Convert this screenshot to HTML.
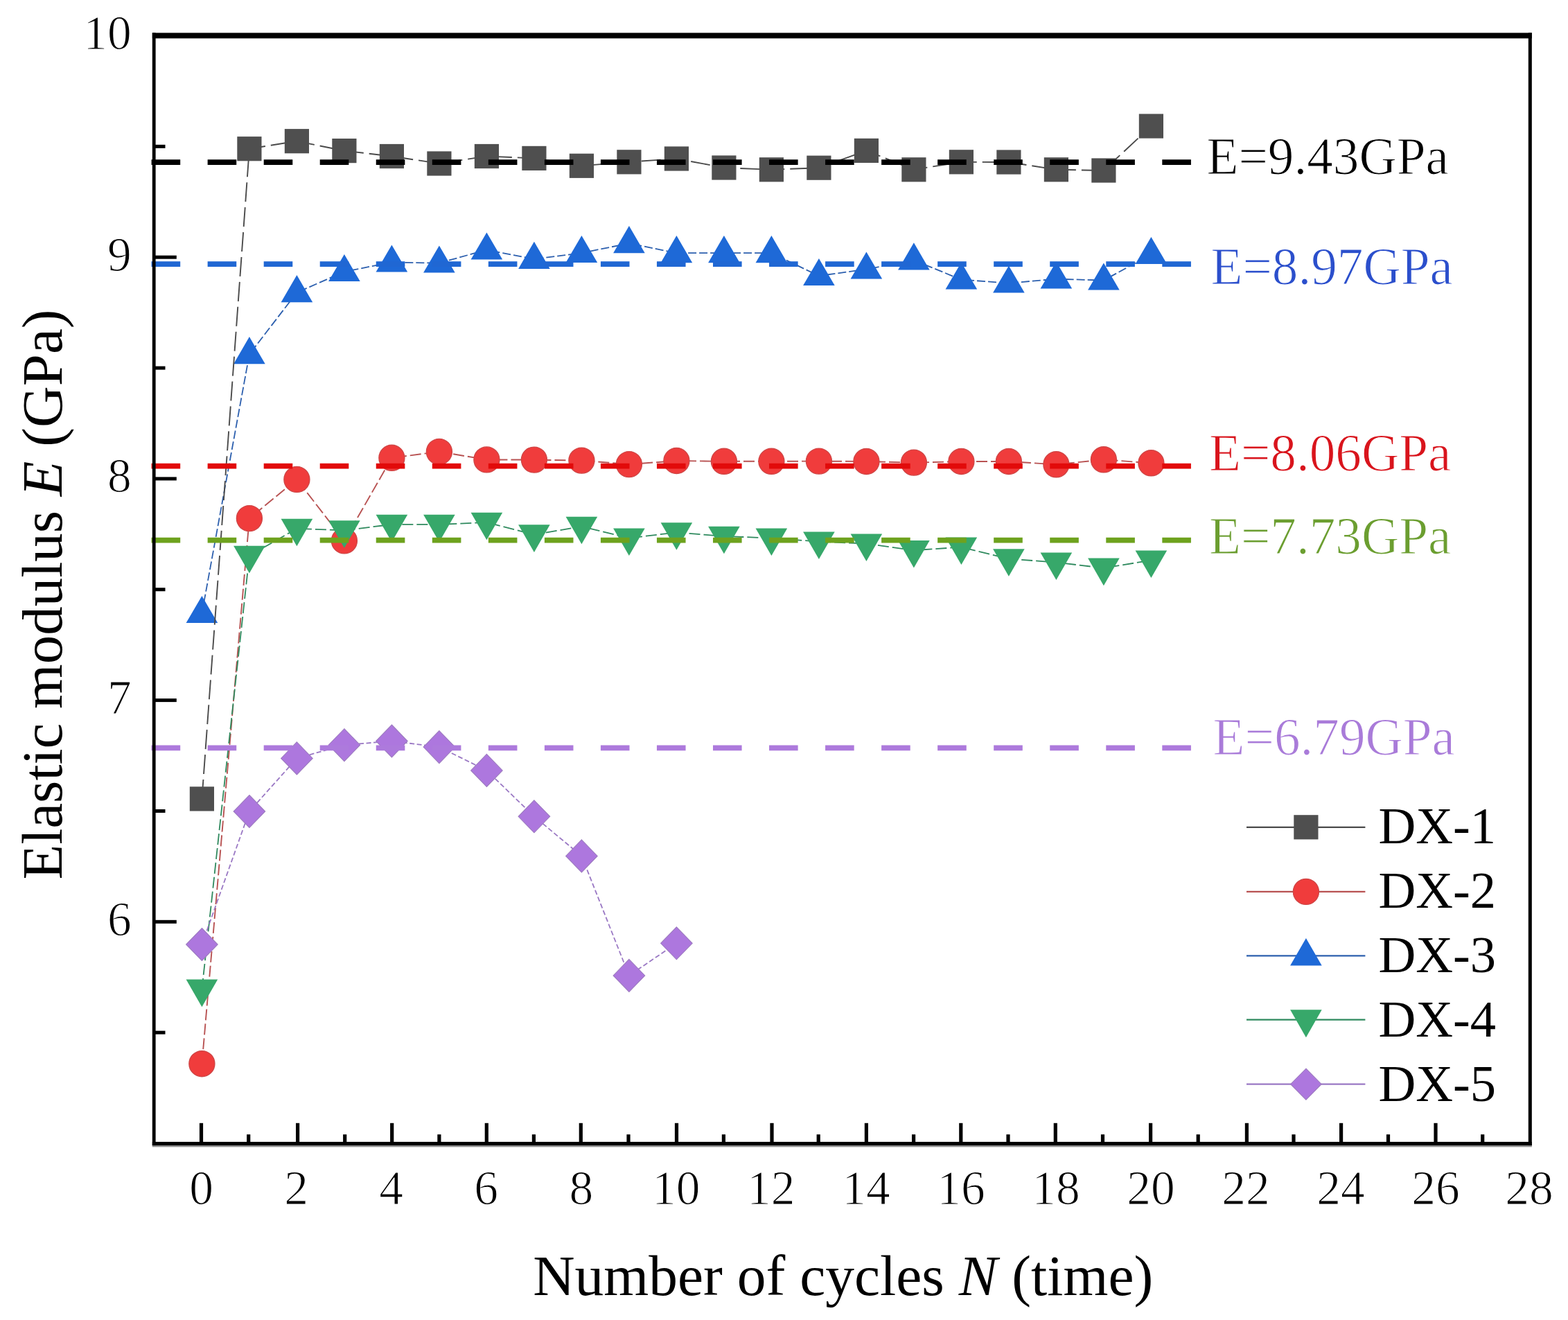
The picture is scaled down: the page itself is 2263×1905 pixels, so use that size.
<!DOCTYPE html>
<html><head><meta charset="utf-8"><title>Elastic modulus vs cycles</title>
<style>html,body{margin:0;padding:0;background:#fff;}svg{display:block;}text{font-family:"Liberation Serif","Times New Roman",serif;}</style>
</head><body>
<svg width="2263" height="1905" viewBox="0 0 2263 1905">
<rect width="2263" height="1905" fill="#fff"/>
<g id="s3">
<polyline points="291.4,885.1 359.9,511.3 428.4,422.2 496.9,392.1 565.4,378.6 633.9,379.6 702.4,360.6 770.9,373.9 839.4,365.1 907.9,351.2 976.4,365.2 1044.9,365.2 1113.4,365.2 1181.9,398.1 1250.4,388.6 1318.9,375.4 1387.4,403.6 1455.9,408.6 1524.4,402.6 1592.9,404.6 1661.4,367.1" fill="none" stroke="#2c5fae" stroke-width="1.8" stroke-dasharray="12 4"/>
<polygon points="291.4,859.9 314.2,899.1 268.6,899.1" fill="#1e69d7"/>
<polygon points="359.9,486.1 382.7,525.3 337.1,525.3" fill="#1e69d7"/>
<polygon points="428.4,397 451.2,436.2 405.6,436.2" fill="#1e69d7"/>
<polygon points="496.9,366.9 519.7,406.1 474.1,406.1" fill="#1e69d7"/>
<polygon points="565.4,353.4 588.2,392.6 542.6,392.6" fill="#1e69d7"/>
<polygon points="633.9,354.4 656.7,393.6 611.1,393.6" fill="#1e69d7"/>
<polygon points="702.4,335.4 725.2,374.6 679.6,374.6" fill="#1e69d7"/>
<polygon points="770.9,348.7 793.7,387.9 748.1,387.9" fill="#1e69d7"/>
<polygon points="839.4,339.9 862.2,379.1 816.6,379.1" fill="#1e69d7"/>
<polygon points="907.9,326 930.7,365.2 885.1,365.2" fill="#1e69d7"/>
<polygon points="976.4,340 999.2,379.2 953.6,379.2" fill="#1e69d7"/>
<polygon points="1044.9,340 1067.7,379.2 1022.1,379.2" fill="#1e69d7"/>
<polygon points="1113.4,340 1136.2,379.2 1090.6,379.2" fill="#1e69d7"/>
<polygon points="1181.9,372.9 1204.7,412.1 1159.1,412.1" fill="#1e69d7"/>
<polygon points="1250.4,363.4 1273.2,402.6 1227.6,402.6" fill="#1e69d7"/>
<polygon points="1318.9,350.2 1341.7,389.4 1296.1,389.4" fill="#1e69d7"/>
<polygon points="1387.4,378.4 1410.2,417.6 1364.6,417.6" fill="#1e69d7"/>
<polygon points="1455.9,383.4 1478.7,422.6 1433.1,422.6" fill="#1e69d7"/>
<polygon points="1524.4,377.4 1547.2,416.6 1501.6,416.6" fill="#1e69d7"/>
<polygon points="1592.9,379.4 1615.7,418.6 1570.1,418.6" fill="#1e69d7"/>
<polygon points="1661.4,341.9 1684.2,381.1 1638.6,381.1" fill="#1e69d7"/>
</g>
<g id="s1">
<polyline points="291.4,1152.9 359.9,214.7 428.4,203.7 496.9,217.6 565.4,225.5 633.9,236 702.4,225.5 770.9,228.4 839.4,239.3 907.9,233.8 976.4,229 1044.9,242 1113.4,244.8 1181.9,242.2 1250.4,217.4 1318.9,244.8 1387.4,233.8 1455.9,234 1524.4,244.8 1592.9,246 1661.4,182" fill="none" stroke="#4a4a4a" stroke-width="1.9" stroke-dasharray="28 8"/>
<rect x="273.8" y="1135.3" width="35.2" height="35.2" fill="#4f4f4f"/>
<rect x="342.3" y="197.1" width="35.2" height="35.2" fill="#4f4f4f"/>
<rect x="410.8" y="186.1" width="35.2" height="35.2" fill="#4f4f4f"/>
<rect x="479.3" y="200" width="35.2" height="35.2" fill="#4f4f4f"/>
<rect x="547.8" y="207.9" width="35.2" height="35.2" fill="#4f4f4f"/>
<rect x="616.3" y="218.4" width="35.2" height="35.2" fill="#4f4f4f"/>
<rect x="684.8" y="207.9" width="35.2" height="35.2" fill="#4f4f4f"/>
<rect x="753.3" y="210.8" width="35.2" height="35.2" fill="#4f4f4f"/>
<rect x="821.8" y="221.7" width="35.2" height="35.2" fill="#4f4f4f"/>
<rect x="890.3" y="216.2" width="35.2" height="35.2" fill="#4f4f4f"/>
<rect x="958.8" y="211.4" width="35.2" height="35.2" fill="#4f4f4f"/>
<rect x="1027.3" y="224.4" width="35.2" height="35.2" fill="#4f4f4f"/>
<rect x="1095.8" y="227.2" width="35.2" height="35.2" fill="#4f4f4f"/>
<rect x="1164.3" y="224.6" width="35.2" height="35.2" fill="#4f4f4f"/>
<rect x="1232.8" y="199.8" width="35.2" height="35.2" fill="#4f4f4f"/>
<rect x="1301.3" y="227.2" width="35.2" height="35.2" fill="#4f4f4f"/>
<rect x="1369.8" y="216.2" width="35.2" height="35.2" fill="#4f4f4f"/>
<rect x="1438.3" y="216.4" width="35.2" height="35.2" fill="#4f4f4f"/>
<rect x="1506.8" y="227.2" width="35.2" height="35.2" fill="#4f4f4f"/>
<rect x="1575.3" y="228.4" width="35.2" height="35.2" fill="#4f4f4f"/>
<rect x="1643.8" y="164.4" width="35.2" height="35.2" fill="#4f4f4f"/>
</g>
<g id="s2">
<polyline points="291.4,1535.2 359.9,748.1 428.4,691.9 496.9,780.4 565.4,660.8 633.9,651.9 702.4,663.4 770.9,663.6 839.4,664.6 907.9,670.1 976.4,665 1044.9,665.8 1113.4,665.8 1181.9,665.6 1250.4,666 1318.9,667.6 1387.4,666 1455.9,666 1524.4,670.3 1592.9,663.3 1661.4,668.3" fill="none" stroke="#b85252" stroke-width="1.9" stroke-dasharray="16 5"/>
<circle cx="291.4" cy="1535.2" r="18.5" fill="#f03c3c" stroke="#d04545" stroke-width="1.4"/>
<circle cx="359.9" cy="748.1" r="18.5" fill="#f03c3c" stroke="#d04545" stroke-width="1.4"/>
<circle cx="428.4" cy="691.9" r="18.5" fill="#f03c3c" stroke="#d04545" stroke-width="1.4"/>
<circle cx="496.9" cy="780.4" r="18.5" fill="#f03c3c" stroke="#d04545" stroke-width="1.4"/>
<circle cx="565.4" cy="660.8" r="18.5" fill="#f03c3c" stroke="#d04545" stroke-width="1.4"/>
<circle cx="633.9" cy="651.9" r="18.5" fill="#f03c3c" stroke="#d04545" stroke-width="1.4"/>
<circle cx="702.4" cy="663.4" r="18.5" fill="#f03c3c" stroke="#d04545" stroke-width="1.4"/>
<circle cx="770.9" cy="663.6" r="18.5" fill="#f03c3c" stroke="#d04545" stroke-width="1.4"/>
<circle cx="839.4" cy="664.6" r="18.5" fill="#f03c3c" stroke="#d04545" stroke-width="1.4"/>
<circle cx="907.9" cy="670.1" r="18.5" fill="#f03c3c" stroke="#d04545" stroke-width="1.4"/>
<circle cx="976.4" cy="665" r="18.5" fill="#f03c3c" stroke="#d04545" stroke-width="1.4"/>
<circle cx="1044.9" cy="665.8" r="18.5" fill="#f03c3c" stroke="#d04545" stroke-width="1.4"/>
<circle cx="1113.4" cy="665.8" r="18.5" fill="#f03c3c" stroke="#d04545" stroke-width="1.4"/>
<circle cx="1181.9" cy="665.6" r="18.5" fill="#f03c3c" stroke="#d04545" stroke-width="1.4"/>
<circle cx="1250.4" cy="666" r="18.5" fill="#f03c3c" stroke="#d04545" stroke-width="1.4"/>
<circle cx="1318.9" cy="667.6" r="18.5" fill="#f03c3c" stroke="#d04545" stroke-width="1.4"/>
<circle cx="1387.4" cy="666" r="18.5" fill="#f03c3c" stroke="#d04545" stroke-width="1.4"/>
<circle cx="1455.9" cy="666" r="18.5" fill="#f03c3c" stroke="#d04545" stroke-width="1.4"/>
<circle cx="1524.4" cy="670.3" r="18.5" fill="#f03c3c" stroke="#d04545" stroke-width="1.4"/>
<circle cx="1592.9" cy="663.3" r="18.5" fill="#f03c3c" stroke="#d04545" stroke-width="1.4"/>
<circle cx="1661.4" cy="668.3" r="18.5" fill="#f03c3c" stroke="#d04545" stroke-width="1.4"/>
</g>
<g id="s4">
<polyline points="291.4,1427.8 359.9,801.9 428.4,762.9 496.9,765.4 565.4,756.9 633.9,756.9 702.4,753.9 770.9,771.5 839.4,759.9 907.9,776.6 976.4,768.4 1044.9,773.9 1113.4,776.6 1181.9,781.6 1250.4,784.6 1318.9,794.2 1387.4,789.6 1455.9,806.4 1524.4,811.6 1592.9,819.8 1661.4,808.6" fill="none" stroke="#2f8a5e" stroke-width="1.8" stroke-dasharray="16 5"/>
<polygon points="268.6,1413.6 314.2,1413.6 291.4,1453.2" fill="#37a86a"/>
<polygon points="337.1,787.7 382.7,787.7 359.9,827.3" fill="#37a86a"/>
<polygon points="405.6,748.7 451.2,748.7 428.4,788.3" fill="#37a86a"/>
<polygon points="474.1,751.2 519.7,751.2 496.9,790.8" fill="#37a86a"/>
<polygon points="542.6,742.7 588.2,742.7 565.4,782.3" fill="#37a86a"/>
<polygon points="611.1,742.7 656.7,742.7 633.9,782.3" fill="#37a86a"/>
<polygon points="679.6,739.7 725.2,739.7 702.4,779.3" fill="#37a86a"/>
<polygon points="748.1,757.3 793.7,757.3 770.9,796.9" fill="#37a86a"/>
<polygon points="816.6,745.7 862.2,745.7 839.4,785.3" fill="#37a86a"/>
<polygon points="885.1,762.4 930.7,762.4 907.9,802" fill="#37a86a"/>
<polygon points="953.6,754.2 999.2,754.2 976.4,793.8" fill="#37a86a"/>
<polygon points="1022.1,759.7 1067.7,759.7 1044.9,799.3" fill="#37a86a"/>
<polygon points="1090.6,762.4 1136.2,762.4 1113.4,802" fill="#37a86a"/>
<polygon points="1159.1,767.4 1204.7,767.4 1181.9,807" fill="#37a86a"/>
<polygon points="1227.6,770.4 1273.2,770.4 1250.4,810" fill="#37a86a"/>
<polygon points="1296.1,780 1341.7,780 1318.9,819.6" fill="#37a86a"/>
<polygon points="1364.6,775.4 1410.2,775.4 1387.4,815" fill="#37a86a"/>
<polygon points="1433.1,792.2 1478.7,792.2 1455.9,831.8" fill="#37a86a"/>
<polygon points="1501.6,797.4 1547.2,797.4 1524.4,837" fill="#37a86a"/>
<polygon points="1570.1,805.6 1615.7,805.6 1592.9,845.2" fill="#37a86a"/>
<polygon points="1638.6,794.4 1684.2,794.4 1661.4,834" fill="#37a86a"/>
</g>
<g id="s5">
<polyline points="291.4,1363 359.9,1171 428.4,1094.4 496.9,1075.2 565.4,1069.5 633.9,1078.1 702.4,1111.9 770.9,1178.3 839.4,1235.4 907.9,1407.9 976.4,1361.3" fill="none" stroke="#9a78c4" stroke-width="1.8" stroke-dasharray="7 3.5"/>
<polygon points="291.4,1339.5 314.2,1363 291.4,1386.5 268.6,1363" fill="#ad77de" stroke="#9d7bc0" stroke-width="1.1" stroke-linejoin="miter"/>
<polygon points="359.9,1147.5 382.7,1171 359.9,1194.5 337.1,1171" fill="#ad77de" stroke="#9d7bc0" stroke-width="1.1" stroke-linejoin="miter"/>
<polygon points="428.4,1070.9 451.2,1094.4 428.4,1117.9 405.6,1094.4" fill="#ad77de" stroke="#9d7bc0" stroke-width="1.1" stroke-linejoin="miter"/>
<polygon points="496.9,1051.7 519.7,1075.2 496.9,1098.7 474.1,1075.2" fill="#ad77de" stroke="#9d7bc0" stroke-width="1.1" stroke-linejoin="miter"/>
<polygon points="565.4,1046 588.2,1069.5 565.4,1093 542.6,1069.5" fill="#ad77de" stroke="#9d7bc0" stroke-width="1.1" stroke-linejoin="miter"/>
<polygon points="633.9,1054.6 656.7,1078.1 633.9,1101.6 611.1,1078.1" fill="#ad77de" stroke="#9d7bc0" stroke-width="1.1" stroke-linejoin="miter"/>
<polygon points="702.4,1088.4 725.2,1111.9 702.4,1135.4 679.6,1111.9" fill="#ad77de" stroke="#9d7bc0" stroke-width="1.1" stroke-linejoin="miter"/>
<polygon points="770.9,1154.8 793.7,1178.3 770.9,1201.8 748.1,1178.3" fill="#ad77de" stroke="#9d7bc0" stroke-width="1.1" stroke-linejoin="miter"/>
<polygon points="839.4,1211.9 862.2,1235.4 839.4,1258.9 816.6,1235.4" fill="#ad77de" stroke="#9d7bc0" stroke-width="1.1" stroke-linejoin="miter"/>
<polygon points="907.9,1384.4 930.7,1407.9 907.9,1431.4 885.1,1407.9" fill="#ad77de" stroke="#9d7bc0" stroke-width="1.1" stroke-linejoin="miter"/>
<polygon points="976.4,1337.8 999.2,1361.3 976.4,1384.8 953.6,1361.3" fill="#ad77de" stroke="#9d7bc0" stroke-width="1.1" stroke-linejoin="miter"/>
</g>
<g id="refs">
<line x1="218.6" y1="234.2" x2="1729" y2="234.2" stroke="#000000" stroke-width="7.7" stroke-dasharray="41.6 39.44"/>
<line x1="218.6" y1="381.2" x2="1729" y2="381.2" stroke="#2067d3" stroke-width="7.7" stroke-dasharray="41.6 39.44"/>
<line x1="218.6" y1="672.6" x2="1729" y2="672.6" stroke="#e20a0a" stroke-width="7.7" stroke-dasharray="41.6 39.44"/>
<line x1="218.6" y1="779.6" x2="1729" y2="779.6" stroke="#6ea21e" stroke-width="7.7" stroke-dasharray="41.6 39.44"/>
<line x1="218.6" y1="1079.4" x2="1729" y2="1079.4" stroke="#ad7adc" stroke-width="7.7" stroke-dasharray="41.6 39.44"/>
</g>
<g id="frame" fill="#000">
<rect x="219.8" y="47.4" width="1991" height="8"/>
<rect x="219.8" y="1647.9" width="1991" height="5.4"/>
<rect x="219.8" y="47.4" width="4.8" height="1605.9"/>
<rect x="2205.8" y="47.4" width="5" height="1605.9"/>
<rect x="219.8" y="1653.3" width="1991" height="2" fill="#8a8a8a"/>
<rect x="287.9" y="1620.8" width="5.2" height="28"/>
<rect x="356.1" y="1637.2" width="5.2" height="11.5"/>
<rect x="427" y="1620.8" width="5.2" height="28"/>
<rect x="495.1" y="1637.2" width="5.2" height="11.5"/>
<rect x="563.1" y="1620.8" width="5.2" height="28"/>
<rect x="631.3" y="1637.2" width="5.2" height="11.5"/>
<rect x="699.7" y="1620.8" width="5.2" height="28"/>
<rect x="767.8" y="1637.2" width="5.2" height="11.5"/>
<rect x="835.7" y="1620.8" width="5.2" height="28"/>
<rect x="904.4" y="1637.2" width="5.2" height="11.5"/>
<rect x="973.9" y="1620.8" width="5.2" height="28"/>
<rect x="1041.8" y="1637.2" width="5.2" height="11.5"/>
<rect x="1111.4" y="1620.8" width="5.2" height="28"/>
<rect x="1178.6" y="1637.2" width="5.2" height="11.5"/>
<rect x="1247.8" y="1620.8" width="5.2" height="28"/>
<rect x="1316" y="1637.2" width="5.2" height="11.5"/>
<rect x="1384.2" y="1620.8" width="5.2" height="28"/>
<rect x="1452.4" y="1637.2" width="5.2" height="11.5"/>
<rect x="1520.7" y="1620.8" width="5.2" height="28"/>
<rect x="1588.9" y="1637.2" width="5.2" height="11.5"/>
<rect x="1658" y="1620.8" width="5.2" height="28"/>
<rect x="1726.6" y="1637.2" width="5.2" height="11.5"/>
<rect x="1796.8" y="1620.8" width="5.2" height="28"/>
<rect x="1864.4" y="1637.2" width="5.2" height="11.5"/>
<rect x="1933" y="1620.8" width="5.2" height="28"/>
<rect x="2000.9" y="1637.2" width="5.2" height="11.5"/>
<rect x="2069.4" y="1620.8" width="5.2" height="28"/>
<rect x="2137.1" y="1637.2" width="5.2" height="11.5"/>
<rect x="224" y="208.85" width="14.5" height="5"/>
<rect x="224" y="368.7" width="30.8" height="5"/>
<rect x="224" y="528.55" width="14.5" height="5"/>
<rect x="224" y="688.4" width="30.8" height="5"/>
<rect x="224" y="848.25" width="14.5" height="5"/>
<rect x="224" y="1008.1" width="30.8" height="5"/>
<rect x="224" y="1167.95" width="14.5" height="5"/>
<rect x="224" y="1327.8" width="30.8" height="5"/>
<rect x="224" y="1487.65" width="14.5" height="5"/>
</g>
<g id="ticklabels" font-size="69.5" fill="#000" text-anchor="middle" stroke="#fff" stroke-width="1.2">
<text x="290.6" y="1737.5">0</text>
<text x="427.64" y="1737.5">2</text>
<text x="564.68" y="1737.5">4</text>
<text x="701.72" y="1737.5">6</text>
<text x="838.76" y="1737.5">8</text>
<text x="975.8" y="1737.5">10</text>
<text x="1112.84" y="1737.5">12</text>
<text x="1249.88" y="1737.5">14</text>
<text x="1386.92" y="1737.5">16</text>
<text x="1523.96" y="1737.5">18</text>
<text x="1661" y="1737.5">20</text>
<text x="1798.04" y="1737.5">22</text>
<text x="1935.08" y="1737.5">24</text>
<text x="2072.12" y="1737.5">26</text>
<text x="2206.9" y="1737.5">28</text>
</g>
<g id="yticklabels" font-size="69.5" fill="#000" text-anchor="end" stroke="#fff" stroke-width="1.2">
<text x="189.8" y="71">10</text>
<text x="189.8" y="390.7">9</text>
<text x="189.8" y="710.4">8</text>
<text x="189.8" y="1030.1">7</text>
<text x="189.8" y="1349.8">6</text>
</g>
<text x="1216.8" y="1869" font-size="83.5" text-anchor="middle" fill="#000">Number of cycles <tspan font-style="italic">N</tspan> (time)</text>
<text transform="translate(88.6,858) rotate(-90)" font-size="83" text-anchor="middle" fill="#000">Elastic modulus <tspan font-style="italic">E</tspan> (GPa)</text>
<g id="elabels" font-size="75.2" stroke="#fff" stroke-width="1.1">
<text x="1741.5" y="251.2" fill="#000000">E=9.43GPa</text>
<text x="1747.5" y="409.5" fill="#2b4fcc">E=8.97GPa</text>
<text x="1745" y="678.5" fill="#d9141c">E=8.06GPa</text>
<text x="1745" y="798.5" fill="#6b9e30">E=7.73GPa</text>
<text x="1750.6" y="1088.7" fill="#a97bd9">E=6.79GPa</text>
</g>
<g id="legend">
<line x1="1799" y1="1193.8" x2="1970.4" y2="1193.8" stroke="#4a4a4a" stroke-width="2.2"/>
<rect x="1867.3" y="1176.2" width="35.2" height="35.2" fill="#4f4f4f"/>
<text x="1989.4" y="1217.1" font-size="74.5" fill="#000">DX-1</text>
<line x1="1799" y1="1286.9" x2="1970.4" y2="1286.9" stroke="#b85252" stroke-width="2.2"/>
<circle cx="1884.9" cy="1286.9" r="18.5" fill="#f03c3c" stroke="#d04545" stroke-width="1.4"/>
<text x="1989.4" y="1310.2" font-size="74.5" fill="#000">DX-2</text>
<line x1="1799" y1="1379.3" x2="1970.4" y2="1379.3" stroke="#2c5fae" stroke-width="2.2"/>
<polygon points="1884.9,1354.1 1907.7,1393.5 1862.1,1393.5" fill="#1e69d7"/>
<text x="1989.4" y="1402.6" font-size="74.5" fill="#000">DX-3</text>
<line x1="1799" y1="1471.6" x2="1970.4" y2="1471.6" stroke="#2f8a5e" stroke-width="2.2"/>
<polygon points="1862.1,1457.2 1907.7,1457.2 1884.9,1497.2" fill="#37a86a"/>
<text x="1989.4" y="1496.3" font-size="74.5" fill="#000">DX-4</text>
<line x1="1799" y1="1564.7" x2="1970.4" y2="1564.7" stroke="#9a78c4" stroke-width="2.2"/>
<polygon points="1884.9,1542.2 1907.15,1564.7 1884.9,1587.2 1862.65,1564.7" fill="#ad77de" stroke="#9d7bc0" stroke-width="1.1" stroke-linejoin="miter"/>
<text x="1989.4" y="1589.4" font-size="74.5" fill="#000">DX-5</text>
</g>
</svg>
</body></html>
